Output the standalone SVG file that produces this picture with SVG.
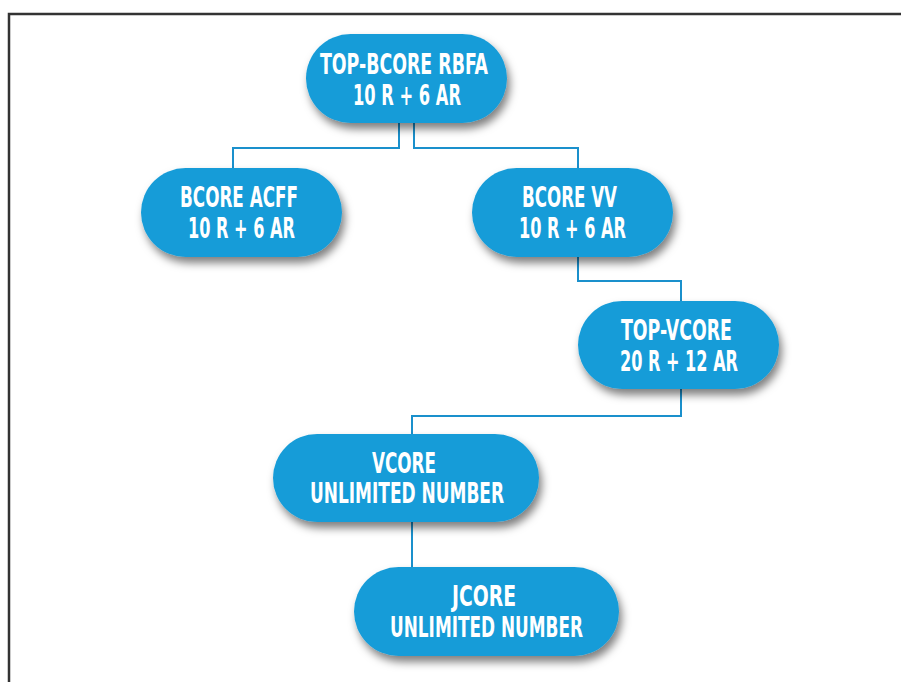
<svg xmlns="http://www.w3.org/2000/svg" width="901" height="682" viewBox="0 0 901 682">
<style>
.node{fill:#179cd8;filter:url(#sh)}
.lbl{font-family:"Liberation Sans Narrow","DejaVu Sans Condensed","Liberation Sans",sans-serif;font-weight:bold;font-size:28px;fill:#ffffff;text-anchor:middle}
.edge{fill:none;stroke:#1a90cc;stroke-width:2}
</style>
<defs>
<filter id="sh" x="-20%" y="-30%" width="140%" height="170%">
<feDropShadow dx="3" dy="6" stdDeviation="4.5" flood-color="#000" flood-opacity="0.5"/>
</filter>
</defs>
<rect width="901" height="682" fill="#ffffff"/>
<path d="M9,682 V14 H901" fill="none" stroke="#333333" stroke-width="2.5"/>
<g id="connectors">
<path class="edge" d="M399,123 V148 H233 V168"/>
<path class="edge" d="M414,123 V148 H578 V168"/>
<path class="edge" d="M578,257 V281 H681 V301"/>
<path class="edge" d="M681,389 V416 H412 V434"/>
<path class="edge" d="M412,522 V567"/>
</g>
<g id="n-top-bcore">
<rect class="node" x="306" y="34" width="201" height="89" rx="44.5"/>
<text class="lbl" x="404" y="74" textLength="168" lengthAdjust="spacingAndGlyphs">TOP-BCORE RBFA</text>
<text class="lbl" x="407" y="105" textLength="108" lengthAdjust="spacingAndGlyphs">10 R + 6 AR</text>
</g>
<g id="n-bcore-acff">
<rect class="node" x="141" y="168" width="201" height="89" rx="44.5"/>
<text class="lbl" x="239" y="207" textLength="118" lengthAdjust="spacingAndGlyphs">BCORE ACFF</text>
<text class="lbl" x="241.5" y="238" textLength="107" lengthAdjust="spacingAndGlyphs">10 R + 6 AR</text>
</g>
<g id="n-bcore-vv">
<rect class="node" x="472" y="168" width="201" height="89" rx="44.5"/>
<text class="lbl" x="569.5" y="207" textLength="95" lengthAdjust="spacingAndGlyphs">BCORE VV</text>
<text class="lbl" x="572.5" y="238" textLength="107" lengthAdjust="spacingAndGlyphs">10 R + 6 AR</text>
</g>
<g id="n-top-vcore">
<rect class="node" x="578" y="301" width="201" height="88" rx="44"/>
<text class="lbl" x="676.5" y="340" textLength="111" lengthAdjust="spacingAndGlyphs">TOP-VCORE</text>
<text class="lbl" x="679" y="371" textLength="118" lengthAdjust="spacingAndGlyphs">20 R + 12 AR</text>
</g>
<g id="n-vcore">
<rect class="node" x="273" y="434" width="266" height="88" rx="44"/>
<text class="lbl" x="404" y="473" textLength="64" lengthAdjust="spacingAndGlyphs">VCORE</text>
<text class="lbl" x="407" y="503" textLength="194" lengthAdjust="spacingAndGlyphs">UNLIMITED NUMBER</text>
</g>
<g id="n-jcore">
<rect class="node" x="354" y="567" width="265" height="89" rx="44.5"/>
<text class="lbl" x="484" y="606" textLength="64" lengthAdjust="spacingAndGlyphs">JCORE</text>
<text class="lbl" x="486.5" y="637" textLength="193" lengthAdjust="spacingAndGlyphs">UNLIMITED NUMBER</text>
</g>
</svg>
